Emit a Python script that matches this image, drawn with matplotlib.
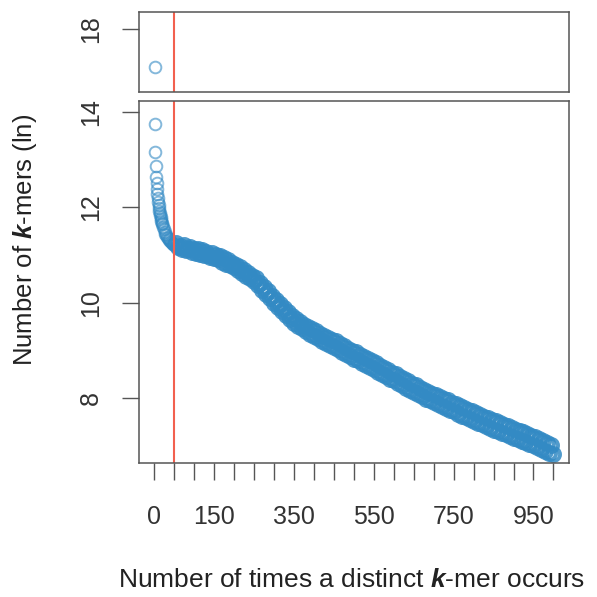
import matplotlib
matplotlib.use("Agg")
import matplotlib.pyplot as plt

plt.rcParams["font.family"] = ["Liberation Sans", "DejaVu Sans"]
plt.rcParams["mathtext.fontset"] = "custom"
plt.rcParams["mathtext.rm"] = "Liberation Sans"
plt.rcParams["mathtext.it"] = "Liberation Sans:italic"
plt.rcParams["mathtext.bf"] = "Liberation Sans:bold"
plt.rcParams["mathtext.bfit"] = "Liberation Sans:italic:bold"

# occurrences of a distinct k-mer and ln(number of k-mers) with that count
occ_low = [1, 2, 3, 4, 5, 6, 7, 8, 9, 10, 11, 12, 13, 14, 15, 16, 17, 18, 19, 20,
           22, 24, 26, 28, 30, 32, 34, 36, 38, 40, 42, 44, 46, 48, 50]
ln_low = [17.2, 13.75, 13.17, 12.87, 12.64, 12.5, 12.38, 12.28, 12.2, 12.12,
          12.05, 11.99, 11.93, 11.88, 11.83, 11.79, 11.75, 11.71, 11.68, 11.65,
          11.59, 11.54, 11.49, 11.45, 11.41, 11.38, 11.35, 11.33, 11.31, 11.29,
          11.27, 11.26, 11.24, 11.23, 11.21]

occ_high = list(range(55, 1001, 5))
ln_high = [
    11.25, 11.16, 11.19, 11.12, 11.21, 11.10, 11.13, 11.16, 11.06, 11.13,
    11.04, 11.13, 11.03, 11.10, 10.99, 11.07, 11.00, 10.96, 11.05, 10.94,
    11.01, 10.91, 10.97, 10.86, 10.93, 10.82, 10.89, 10.79, 10.84, 10.74,
    10.80, 10.69, 10.74, 10.62, 10.69, 10.57, 10.63, 10.52, 10.57, 10.46,
    10.51, 10.37, 10.42, 10.27, 10.33, 10.18, 10.24, 10.09, 10.15, 10.00,
    10.06, 9.91, 9.97, 9.83, 9.88, 9.74, 9.80, 9.66, 9.72, 9.57,
    9.65, 9.52, 9.59, 9.46, 9.54, 9.41, 9.49, 9.35, 9.44, 9.31,
    9.41, 9.25, 9.35, 9.20, 9.31, 9.16, 9.26, 9.11, 9.21, 9.07,
    9.19, 9.02, 9.13, 8.97, 9.09, 8.92, 9.04, 8.88, 8.99, 8.83,
    8.96, 8.79, 8.91, 8.74, 8.86, 8.69, 8.82, 8.65, 8.77, 8.60,
    8.73, 8.55, 8.68, 8.51, 8.63, 8.46, 8.59, 8.41, 8.53, 8.37,
    8.50, 8.32, 8.45, 8.27, 8.40, 8.22, 8.35, 8.17, 8.30, 8.12,
    8.27, 8.08, 8.22, 8.04, 8.18, 7.99, 8.13, 7.95, 8.09, 7.91,
    8.06, 7.87, 8.02, 7.83, 7.98, 7.79, 7.95, 7.76, 7.90, 7.72,
    7.87, 7.67, 7.83, 7.63, 7.79, 7.60, 7.76, 7.56, 7.72, 7.52,
    7.69, 7.48, 7.65, 7.45, 7.61, 7.41, 7.58, 7.38, 7.54, 7.34,
    7.51, 7.31, 7.48, 7.27, 7.44, 7.24, 7.41, 7.20, 7.37, 7.17,
    7.34, 7.14, 7.31, 7.11, 7.28, 7.07, 7.25, 7.04, 7.21, 7.01,
    7.18, 6.97, 7.14, 6.93, 7.10, 6.89, 7.06, 6.85, 7.01, 6.82,
]

cutoff = 50
xticks = list(range(0, 1001, 50))
xtick_labels = ["0", "150", "350", "550", "750", "950"]
top_yticks = [18]
bottom_yticks = [8, 10, 12, 14]

fig = plt.figure(figsize=(5.97, 5.97), dpi=100)
ax_top = fig.add_axes([0.2328, 0.8459, 0.7203, 0.134])
ax_bot = fig.add_axes([0.2328, 0.2245, 0.7203, 0.6064])

pt_col = (0.20, 0.54, 0.77)
grey = "#555555"
for ax in (ax_top, ax_bot):
    # sparse low counts as thin rings, the dense tail with heavier rings
    ax.plot(occ_low, ln_low, "o", mfc="none", mec=pt_col, ms=8.4, mew=1.4,
            alpha=0.6)
    ax.plot(occ_high, ln_high, "o", mfc="none", mec=pt_col, ms=9.4, mew=2.8,
            alpha=0.85)
    ax.axvline(cutoff, color="#f2604f", lw=1.5)
    ax.set_xlim(-38.3, 1039)
    for s in ax.spines.values():
        s.set_color(grey)
        s.set_linewidth(1.1)
    ax.tick_params(axis="y", length=12, width=1.0, color=grey, pad=14,
                   labelsize=18, labelcolor="#333333", labelrotation=90)

ax_top.set_ylim(16.68, 18.36)
ax_top.set_yticks(top_yticks)
ax_top.set_xticks([])

ax_bot.set_ylim(6.64, 14.23)
ax_bot.set_yticks(bottom_yticks)
ax_bot.set_xticks(xticks)
ax_bot.set_xticklabels([str(t) if str(t) in xtick_labels else "" for t in xticks])
ax_bot.tick_params(axis="x", length=12, width=1.0, color=grey, pad=18,
                   labelsize=18, labelcolor="#333333")
for ax in (ax_top, ax_bot):
    for lab in ax.get_yticklabels():
        lab.set_va("center")

fig.text(25 / 597, 1 - 240 / 597, r"Number of $\mathbfit{k}$-mers (ln)",
         rotation=90, ha="center", va="center", fontsize=18.5, color="#222222")
fig.text(352 / 597, 1 - 580 / 597,
         r"Number of times a distinct $\mathbfit{k}$-mer occurs",
         ha="center", va="center", fontsize=19, color="#222222")

fig.savefig("out.png", dpi=100)
